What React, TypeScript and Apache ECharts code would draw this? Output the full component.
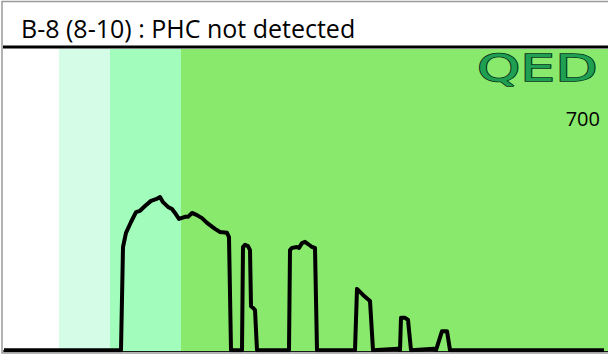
import React, { useEffect, useRef } from "react";
import * as echarts from "echarts";

const titleText = "B-8 (8-10) : PHC not detected";
const scaleLabel = "700";
const logoText = "QED";

// retention axis (arbitrary units 0..604), response axis 0..700
const xMax = 604;
const yMax = 700;

// carbon-range bands: [start, end, colour]
const bandStarts = [0, 55, 106, 177];
const bandEnds = [55, 106, 177, 604];
const bandColors = ["#ffffff", "#d4fce6", "#a2fcbb", "#89e96c"];

// chromatogram trace
const traceX = [
  0, 117, 119, 122, 127, 132, 136, 141, 147, 152, 156, 159, 164, 168, 171, 175, 181, 184, 188, 193, 198, 203, 211, 216, 223, 225, 227,
  238, 239, 241, 244, 246, 247, 249, 251, 253,
  285, 286, 288, 293, 295, 298, 301, 304, 308, 311, 313,
  351, 353, 359, 366, 369,
  394, 396, 397, 401, 404, 407,
  430, 432, 438, 443, 446,
  600,
];
const traceY = [
  2, 2, 241, 274, 299, 322, 325, 336, 348, 352, 357, 345, 334, 329, 320, 306, 311, 311, 320, 315, 308, 297, 283, 276, 274, 264, 2,
  2, 241, 246, 243, 234, 104, 100, 95, 2,
  2, 234, 239, 241, 239, 250, 253, 248, 241, 239, 2,
  2, 144, 130, 116, 2,
  5, 2, 77, 77, 72, 2,
  5, 2, 46, 46, 2,
  2,
];

export default function App() {
  const ref = useRef<HTMLDivElement>(null);
  useEffect(() => {
    if (!ref.current) return;
    const chart = echarts.init(ref.current, null, { renderer: "svg" });
    const bands = bandStarts.map((s, i) => [
      { xAxis: s, itemStyle: { color: bandColors[i], opacity: 1 } },
      { xAxis: bandEnds[i] },
    ]);
    chart.setOption({
      animation: false,
      grid: { left: 4, top: 49, right: 0, bottom: 5 },
      xAxis: {
        type: "value",
        min: 0,
        max: xMax,
        axisLine: { show: true, onZero: false, lineStyle: { color: "#1a1a1a", width: 2 } },
        axisTick: { show: false },
        axisLabel: { show: false },
        splitLine: { show: false },
      },
      yAxis: {
        type: "value",
        min: 0,
        max: yMax,
        axisLine: { show: false },
        axisTick: { show: false },
        axisLabel: { show: false },
        splitLine: { show: false },
      },
      series: [
        {
          type: "line",
          data: [],
          z: 1,
          silent: true,
          markArea: { silent: true, data: bands },
        },
        {
          type: "line",
          z: 3,
          data: traceX.map((x, i) => [x, traceY[i]]),
          showSymbol: false,
          symbol: "none",
          lineStyle: { color: "#000", width: 4, join: "round" },
          clip: true,
        },
      ],
      graphic: [
        {
          type: "rect",
          z: 10,
          shape: { x: 2, y: 1.5, width: 640, height: 351.5 },
          style: { fill: "none", stroke: "#9a9a9a", lineWidth: 1.5 },
          silent: true,
        },
        {
          type: "line",
          z: 10,
          shape: { x1: 3, y1: 47, x2: 608, y2: 47 },
          style: { stroke: "#000", lineWidth: 3 },
          silent: true,
        },
        {
          type: "text",
          z: 10,
          x: 21,
          y: 28,
          style: {
            text: titleText,
            fontSize: 25,
            fontFamily: "Open Sans",
            fill: "#000",
            verticalAlign: "middle",
          },
        },
        {
          type: "text",
          z: 10,
          x: 477,
          y: 68,
          scaleX: 1.45,
          style: {
            text: logoText,
            fontSize: 38,
            fontFamily: "DejaVu Sans",
            verticalAlign: "middle",
            fill: "#1e9f52",
            stroke: "#07321a",
            lineWidth: 1.5,
          },
        },
        {
          type: "text",
          z: 10,
          x: 600,
          y: 118,
          style: {
            text: scaleLabel,
            fontSize: 20,
            fontFamily: "Open Sans",
            fill: "#000",
            align: "right",
            verticalAlign: "middle",
          },
        },
      ],
    });
    return () => chart.dispose();
  }, []);
  return (
    <div
      ref={ref}
      style={{ position: "fixed", left: 0, top: 0, width: 608, height: 356, background: "#fff" }}
    />
  );
}
